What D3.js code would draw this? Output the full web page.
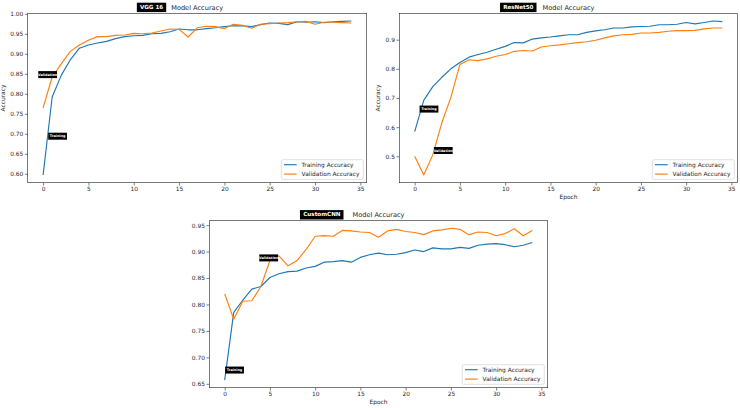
<!DOCTYPE html>
<html lang="en">
<head>
<meta charset="UTF-8">
<title>Model Accuracy</title>
<script src="https://cdn.jsdelivr.net/npm/d3@7"></script>
<style>
  body, html {margin: 0; padding: 0; background: #fff;}
  svg {display: block; font-family: "DejaVu Sans", sans-serif;}
  .tick text {fill: #262626;}
  .tick line {stroke: #262626; stroke-width: 0.6;}
</style>
</head>
<body>
<div class="marco"></div>
<script>
// epochs and ticks
const epochs = d3.range(35);
const epochTicks = [0, 5, 10, 15, 20, 25, 30, 35];
const vggYTicks = [0.60, 0.65, 0.70, 0.75, 0.80, 0.85, 0.90, 0.95, 1.00];
const resYTicks = [0.5, 0.6, 0.7, 0.8, 0.9];
const cnnYTicks = [0.65, 0.70, 0.75, 0.80, 0.85, 0.90, 0.95];

// VGG 16
const vggTrain = [0.597, 0.792, 0.846, 0.885, 0.914, 0.922, 0.927, 0.931, 0.938, 0.943, 0.945, 0.946, 0.950, 0.951, 0.955, 0.962,
  0.960, 0.960, 0.963, 0.965, 0.968, 0.970, 0.970, 0.968, 0.973, 0.977, 0.976, 0.973, 0.980, 0.979, 0.980, 0.978, 0.980, 0.981, 0.982];
const vggVal = [0.765, 0.842, 0.875, 0.906, 0.922, 0.934, 0.943, 0.943, 0.946, 0.947, 0.951, 0.950, 0.952, 0.957, 0.962, 0.961,
  0.942, 0.965, 0.969, 0.968, 0.963, 0.974, 0.971, 0.964, 0.974, 0.975, 0.977, 0.978, 0.980, 0.981, 0.974, 0.979, 0.979, 0.978, 0.977];

// ResNet50
const resTrain = [0.585, 0.692, 0.739, 0.771, 0.800, 0.822, 0.840, 0.849, 0.857, 0.867, 0.877, 0.890, 0.889, 0.902, 0.906, 0.909,
  0.913, 0.917, 0.917, 0.925, 0.930, 0.934, 0.940, 0.940, 0.944, 0.945, 0.946, 0.951, 0.951, 0.953, 0.959, 0.954, 0.959, 0.964, 0.962];
const resVal = [0.500, 0.436, 0.505, 0.615, 0.702, 0.815, 0.831, 0.828, 0.834, 0.843, 0.849, 0.860, 0.863, 0.861, 0.875, 0.879,
  0.882, 0.886, 0.890, 0.893, 0.898, 0.906, 0.913, 0.917, 0.918, 0.923, 0.923, 0.925, 0.929, 0.931, 0.931, 0.932, 0.937, 0.940, 0.940];

// CustomCNN
const cnnTrain = [0.657, 0.785, 0.808, 0.829, 0.834, 0.851, 0.858, 0.862, 0.863, 0.869, 0.872, 0.880, 0.881, 0.883, 0.880, 0.889,
  0.894, 0.897, 0.894, 0.895, 0.898, 0.903, 0.900, 0.907, 0.905, 0.905, 0.908, 0.906, 0.912, 0.914, 0.915, 0.913, 0.909, 0.912, 0.917];
const cnnVal = [0.820, 0.772, 0.806, 0.807, 0.834, 0.883, 0.892, 0.873, 0.883, 0.904, 0.929, 0.930, 0.929, 0.940, 0.939, 0.937,
  0.936, 0.927, 0.939, 0.942, 0.938, 0.936, 0.932, 0.939, 0.941, 0.944, 0.942, 0.932, 0.937, 0.936, 0.930, 0.934, 0.943, 0.930, 0.940];

// annotation anchors [text, epoch, value]
const vggNotes = [["Validation", 0.5, 0.848], ["Training", 1.6, 0.694]];
const resNotes = [["Training", 1.58, 0.662], ["Validation", 3.16, 0.52]];
const cnnNotes = [["Validation", 4.86, 0.888], ["Training", 1.09, 0.676]];

const seriesNames = ["Training Accuracy", "Validation Accuracy"];
const colors = ["#1f77b4", "#ff7f0e"];

var width = 740, height = 408;
var svg = d3.select(".marco").append("svg")
  .attr("width", width)
  .attr("height", height);
svg.append("rect").attr("width", width).attr("height", height).attr("fill", "#fff");

// matplotlib style 5% margins
function pad(ext) {
  var m = (ext[1] - ext[0]) * 0.05;
  return [ext[0] - m, ext[1] + m];
}

function panel(cfg) {
  var g = svg.append("g");
  var x = d3.scaleLinear().domain(pad(d3.extent(epochs))).range([cfg.left, cfg.right]);
  var allVals = cfg.train.concat(cfg.val);
  var y = d3.scaleLinear().domain(pad(d3.extent(allVals))).range([cfg.bottom, cfg.top]);

  // axes
  g.append("g")
    .attr("transform", `translate(0, ${cfg.bottom})`)
    .call(d3.axisBottom(x).tickValues(epochTicks).tickSize(2.8).tickPadding(1.8).tickSizeOuter(0))
    .call(a => a.select(".domain").remove())
    .selectAll("text").attr("font-size", 5.9).attr("font-family", "DejaVu Sans");
  g.append("g")
    .attr("transform", `translate(${cfg.left}, 0)`)
    .call(d3.axisLeft(y).tickValues(cfg.yTicks).tickFormat(d3.format(cfg.fmt)).tickSize(2.8).tickPadding(1.6).tickSizeOuter(0))
    .call(a => a.select(".domain").remove())
    .selectAll("text").attr("font-size", 5.9).attr("font-family", "DejaVu Sans");

  // lines
  var line = d3.line().x((d, i) => x(epochs[i])).y(d => y(d));
  [cfg.train, cfg.val].forEach((s, k) => {
    g.append("path").datum(s)
      .attr("fill", "none")
      .attr("stroke", colors[k])
      .attr("stroke-width", 1.15)
      .attr("stroke-linejoin", "round")
      .attr("d", line);
  });

  // frame
  g.append("rect")
    .attr("x", cfg.left).attr("y", cfg.top)
    .attr("width", cfg.right - cfg.left).attr("height", cfg.bottom - cfg.top)
    .attr("fill", "none").attr("stroke", "#222").attr("stroke-width", 0.6);

  // axis labels
  if (cfg.yLabelOff) {
    g.append("text")
      .attr("transform", `translate(${cfg.left - cfg.yLabelOff}, ${(cfg.top + cfg.bottom) / 2}) rotate(-90)`)
      .attr("text-anchor", "middle")
      .attr("font-size", 5.9).attr("fill", "#262626")
      .text("Accuracy");
  }
  if (cfg.xLabel) {
    g.append("text")
      .attr("x", (cfg.left + cfg.right) / 2).attr("y", cfg.bottom + 16.5)
      .attr("text-anchor", "middle")
      .attr("font-size", 5.9).attr("fill", "#262626")
      .text("Epoch");
  }

  // title
  var cx = (cfg.left + cfg.right) / 2;
  g.append("text")
    .attr("x", cx).attr("y", cfg.top - 3.6)
    .attr("text-anchor", "middle")
    .attr("font-size", 6.6).attr("fill", "#262626")
    .text("Model Accuracy");
  var nm = g.append("text")
    .attr("x", cx - cfg.nameGap - 3).attr("y", cfg.top - 4.6)
    .attr("text-anchor", "end")
    .attr("font-size", 5.6).attr("font-weight", "bold").attr("fill", "#fff")
    .text(cfg.name);
  var bb = nm.node().getBBox();
  g.insert("rect", () => nm.node())
    .attr("x", cx - cfg.nameGap - bb.width - 6).attr("y", cfg.top - 10.6)
    .attr("width", bb.width + 6).attr("height", 9.4)
    .attr("fill", "#000");

  // annotations
  cfg.notes.forEach(n => {
    var ax = x(n[1]), ay = y(n[2]);
    g.append("rect")
      .attr("x", ax - 9.4).attr("y", ay - 3.5)
      .attr("width", 18.8).attr("height", 7)
      .attr("fill", "#000");
    g.append("text")
      .attr("x", ax).attr("y", ay + 1.2)
      .attr("text-anchor", "middle")
      .attr("font-size", 3.4).attr("font-weight", "bold").attr("fill", "#fff")
      .text(n[0]);
  });

  // legend
  var lw = 82, lh = 19.6;
  var lx = cfg.right - 3.4 - lw, ly = cfg.bottom - 3.4 - lh;
  var leg = g.append("g").attr("transform", `translate(${lx}, ${ly})`);
  leg.append("rect")
    .attr("width", lw).attr("height", lh).attr("rx", 1.5)
    .attr("fill", "#fff").attr("fill-opacity", 0.8)
    .attr("stroke", "#ccc").attr("stroke-width", 0.6);
  seriesNames.forEach((s, k) => {
    var yy = 5 + k * 9.4;
    leg.append("line")
      .attr("x1", 2.7).attr("x2", 15.4).attr("y1", yy).attr("y2", yy)
      .attr("stroke", colors[k]).attr("stroke-width", 1.15);
    leg.append("text")
      .attr("x", 20.3).attr("y", yy + 2.1)
      .attr("font-size", 5.9).attr("fill", "#262626")
      .text(s);
  });
}

panel({name: "VGG 16", train: vggTrain, val: vggVal, yTicks: vggYTicks, fmt: ".2f", notes: vggNotes,
  left: 27.7, right: 366.7, top: 13.3, bottom: 182.7, xLabel: false, yLabelOff: 23, nameGap: 31});
panel({name: "ResNet50", train: resTrain, val: resVal, yTicks: resYTicks, fmt: ".1f", notes: resNotes,
  left: 399.3, right: 737.7, top: 13.3, bottom: 182.7, xLabel: true, yLabelOff: 19.5, nameGap: 32});
panel({name: "CustomCNN", train: cnnTrain, val: cnnVal, yTicks: cnnYTicks, fmt: ".2f", notes: cnnNotes,
  left: 209.3, right: 547.7, top: 220.7, bottom: 387.7, xLabel: true, yLabelOff: 0, nameGap: 35});
</script>
</body>
</html>
